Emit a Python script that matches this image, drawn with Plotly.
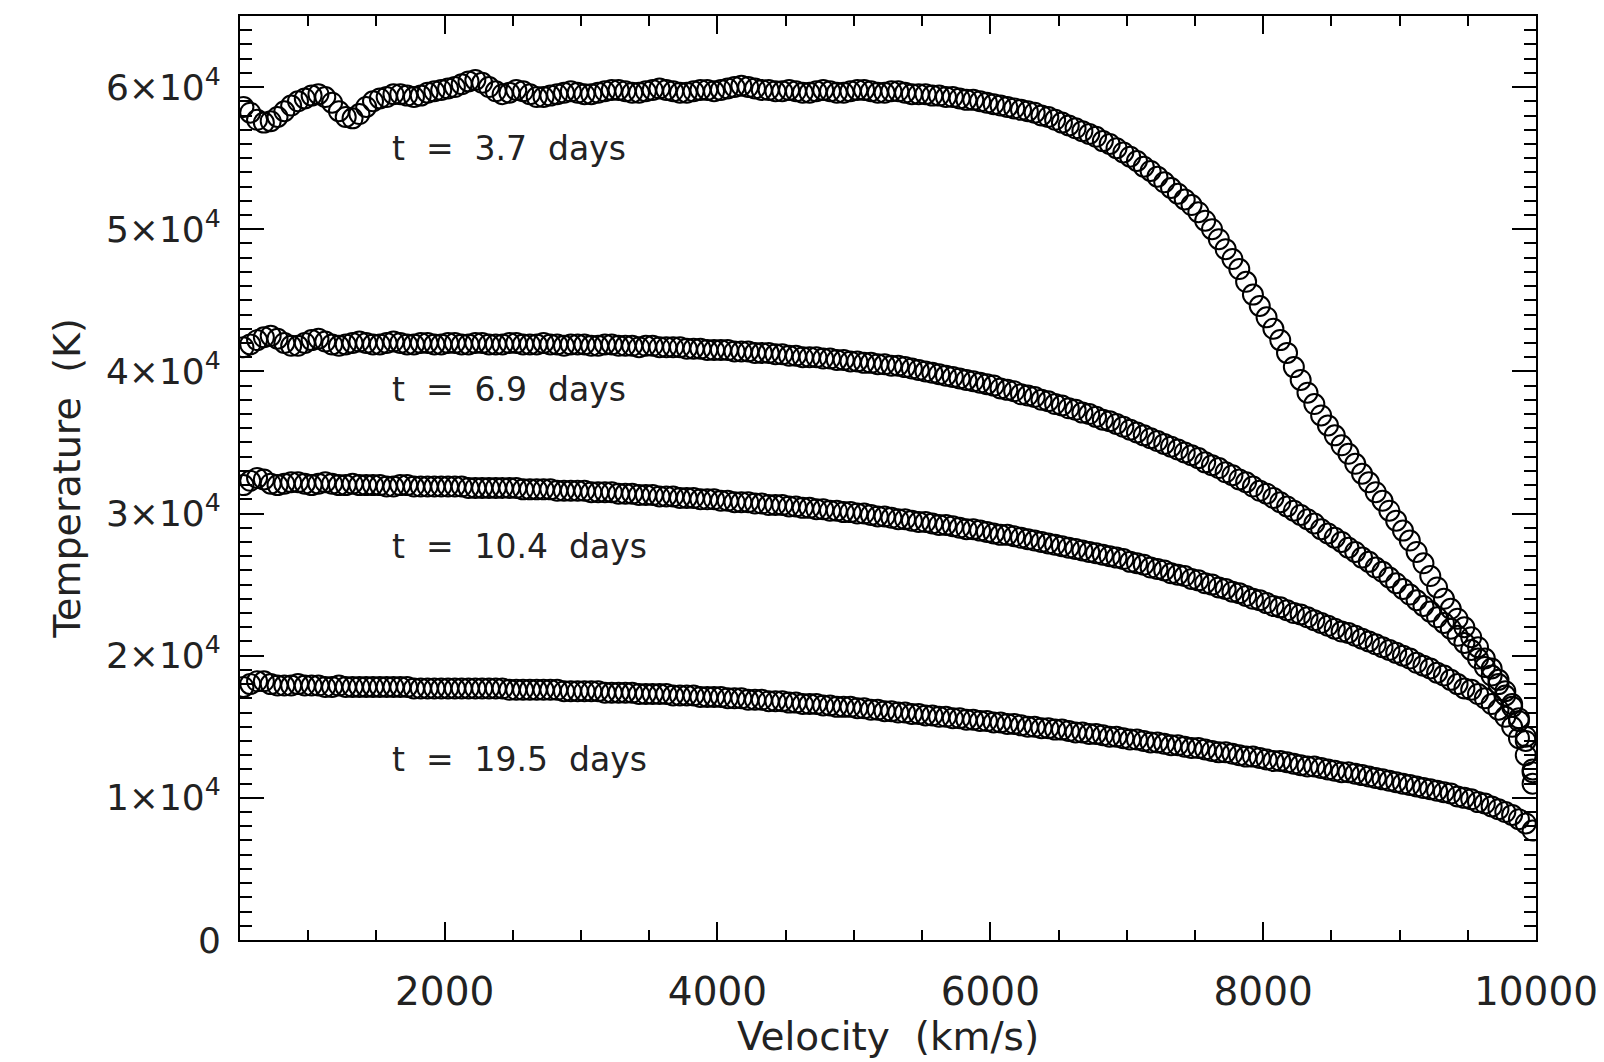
import plotly.graph_objects as go

# Velocity grid (km/s)
velocity = [
    525, 575, 625, 675, 725, 775, 825, 875, 925, 975,
    1025, 1075, 1125, 1175, 1225, 1275, 1325, 1375, 1425, 1475,
    1525, 1575, 1625, 1675, 1725, 1775, 1825, 1875, 1925, 1975,
    2025, 2075, 2125, 2175, 2225, 2275, 2325, 2375, 2425, 2475,
    2525, 2575, 2625, 2675, 2725, 2775, 2825, 2875, 2925, 2975,
    3025, 3075, 3125, 3175, 3225, 3275, 3325, 3375, 3425, 3475,
    3525, 3575, 3625, 3675, 3725, 3775, 3825, 3875, 3925, 3975,
    4025, 4075, 4125, 4175, 4225, 4275, 4325, 4375, 4425, 4475,
    4525, 4575, 4625, 4675, 4725, 4775, 4825, 4875, 4925, 4975,
    5025, 5075, 5125, 5175, 5225, 5275, 5325, 5375, 5425, 5475,
    5525, 5575, 5625, 5675, 5725, 5775, 5825, 5875, 5925, 5975,
    6025, 6075, 6125, 6175, 6225, 6275, 6325, 6375, 6425, 6475,
    6525, 6575, 6625, 6675, 6725, 6775, 6825, 6875, 6925, 6975,
    7025, 7075, 7125, 7175, 7225, 7275, 7325, 7375, 7425, 7475,
    7525, 7575, 7625, 7675, 7725, 7775, 7825, 7875, 7925, 7975,
    8025, 8075, 8125, 8175, 8225, 8275, 8325, 8375, 8425, 8475,
    8525, 8575, 8625, 8675, 8725, 8775, 8825, 8875, 8925, 8975,
    9025, 9075, 9125, 9175, 9225, 9275, 9325, 9375, 9425, 9475,
    9525, 9575, 9625, 9675, 9725, 9775, 9825, 9875, 9925, 9975,
]

# Temperatures in units of 1000 K
temp_3p7_kK = [
    58.6, 58.2, 57.7, 57.5, 57.6, 57.9, 58.3, 58.7, 59.0, 59.2,
    59.4, 59.5, 59.3, 58.9, 58.3, 57.9, 57.8, 58.1, 58.6, 59.0,
    59.2, 59.3, 59.5, 59.5, 59.4, 59.3, 59.4, 59.6, 59.7, 59.8,
    59.9, 60.0, 60.2, 60.4, 60.5, 60.3, 60.0, 59.7, 59.5, 59.6,
    59.8, 59.7, 59.5, 59.3, 59.3, 59.4, 59.5, 59.6, 59.7, 59.6,
    59.5, 59.5, 59.6, 59.7, 59.8, 59.8, 59.7, 59.6, 59.6, 59.7,
    59.8, 59.9, 59.8, 59.7, 59.6, 59.6, 59.7, 59.8, 59.8, 59.7,
    59.8, 59.9, 60.0, 60.1, 60.0, 59.9, 59.8, 59.8, 59.7, 59.7,
    59.8, 59.7, 59.6, 59.6, 59.7, 59.8, 59.7, 59.6, 59.6, 59.7,
    59.8, 59.8, 59.7, 59.6, 59.6, 59.7, 59.7, 59.6, 59.5, 59.5,
    59.5, 59.4, 59.4, 59.3, 59.3, 59.2, 59.1, 59.1, 59.0, 58.9,
    58.8, 58.7, 58.6, 58.5, 58.4, 58.3, 58.2, 58.0, 57.9, 57.7,
    57.5, 57.3, 57.1, 56.9, 56.7, 56.5, 56.2, 56.0, 55.7, 55.4,
    55.1, 54.8, 54.4, 54.1, 53.7, 53.3, 52.9, 52.5, 52.1, 51.7,
    51.2, 50.6, 50.0, 49.3, 48.6, 47.9, 47.2, 46.3, 45.4, 44.6,
    43.8, 43.0, 42.2, 41.3, 40.3, 39.4, 38.5, 37.7, 36.9, 36.2,
    35.5, 34.8, 34.2, 33.5, 32.8, 32.2, 31.5, 30.9, 30.2, 29.5,
    28.8, 28.1, 27.3, 26.5, 25.6, 24.8, 24.0, 23.3, 22.6, 22.0,
    21.3, 20.6, 19.8, 19.1, 18.3, 17.5, 16.6, 15.6, 14.3, 12.0,
]

temp_6p9_kK = [
    41.7, 41.9, 42.2, 42.4, 42.5, 42.3, 42.0, 41.8, 41.8, 42.0,
    42.2, 42.3, 42.1, 41.9, 41.8, 41.9, 42.0, 42.1, 42.0, 41.9,
    41.9, 42.0, 42.1, 42.0, 41.9, 41.9, 42.0, 42.0, 41.9, 41.9,
    42.0, 42.0, 41.9, 41.9, 42.0, 42.0, 41.9, 41.9, 41.9, 42.0,
    42.0, 41.9, 41.9, 41.9, 42.0, 41.9, 41.9, 41.8, 41.9, 41.9,
    41.9, 41.8, 41.8, 41.9, 41.9, 41.8, 41.8, 41.8, 41.7, 41.8,
    41.8, 41.7, 41.7, 41.7, 41.7, 41.6, 41.6, 41.6, 41.5, 41.5,
    41.5, 41.5, 41.4, 41.4, 41.4, 41.3, 41.3, 41.3, 41.2, 41.2,
    41.1, 41.1, 41.0, 41.0, 41.0, 40.9, 40.9, 40.8, 40.8, 40.7,
    40.7, 40.6, 40.6, 40.5, 40.5, 40.4, 40.4, 40.3, 40.2, 40.1,
    40.0, 39.9, 39.8, 39.7, 39.6, 39.5, 39.4, 39.3, 39.2, 39.1,
    39.0, 38.8, 38.7, 38.6, 38.4, 38.3, 38.2, 38.0, 37.9, 37.7,
    37.6, 37.4, 37.3, 37.1, 37.0, 36.8, 36.6, 36.5, 36.3, 36.1,
    35.9, 35.7, 35.5, 35.3, 35.1, 34.9, 34.7, 34.5, 34.3, 34.1,
    33.9, 33.6, 33.4, 33.2, 32.9, 32.7, 32.4, 32.2, 31.9, 31.6,
    31.4, 31.1, 30.8, 30.5, 30.2, 29.9, 29.6, 29.3, 28.9, 28.6,
    28.3, 28.0, 27.6, 27.3, 26.9, 26.6, 26.2, 25.9, 25.5, 25.1,
    24.7, 24.3, 23.9, 23.5, 23.1, 22.7, 22.3, 21.9, 21.4, 20.9,
    20.4, 19.8, 19.2, 18.6, 18.0, 17.2, 16.4, 15.4, 14.0, 11.8,
]

temp_10p4_kK = [
    32.0, 32.3, 32.5, 32.4, 32.1, 32.0, 32.1, 32.2, 32.2, 32.1,
    32.0, 32.1, 32.2, 32.1, 32.0, 32.0, 32.1, 32.0, 32.0, 32.0,
    32.0, 31.9, 31.9, 32.0, 32.0, 31.9, 31.9, 31.9, 31.9, 31.9,
    31.9, 31.9, 31.9, 31.8, 31.8, 31.8, 31.8, 31.8, 31.8, 31.8,
    31.8, 31.7, 31.7, 31.7, 31.7, 31.7, 31.6, 31.6, 31.6, 31.6,
    31.6, 31.5, 31.5, 31.5, 31.5, 31.4, 31.4, 31.4, 31.3, 31.3,
    31.3, 31.2, 31.2, 31.2, 31.1, 31.1, 31.1, 31.0, 31.0, 31.0,
    30.9, 30.9, 30.8, 30.8, 30.8, 30.7, 30.7, 30.6, 30.6, 30.6,
    30.5, 30.5, 30.4, 30.4, 30.3, 30.3, 30.2, 30.2, 30.1, 30.1,
    30.0, 30.0, 29.9, 29.8, 29.8, 29.7, 29.6, 29.6, 29.5, 29.4,
    29.4, 29.3, 29.2, 29.2, 29.1, 29.0, 28.9, 28.9, 28.8, 28.7,
    28.6, 28.5, 28.5, 28.4, 28.3, 28.2, 28.1, 28.0, 27.9, 27.8,
    27.7, 27.6, 27.5, 27.4, 27.3, 27.2, 27.1, 27.0, 26.9, 26.8,
    26.6, 26.5, 26.4, 26.2, 26.1, 26.0, 25.8, 25.7, 25.6, 25.4,
    25.3, 25.1, 25.0, 24.8, 24.7, 24.5, 24.4, 24.2, 24.0, 23.9,
    23.7, 23.5, 23.4, 23.2, 23.0, 22.9, 22.7, 22.5, 22.3, 22.1,
    21.9, 21.7, 21.6, 21.4, 21.2, 21.0, 20.8, 20.6, 20.4, 20.2,
    20.0, 19.8, 19.5, 19.3, 19.1, 18.8, 18.6, 18.3, 18.0, 17.7,
    17.6, 17.3, 17.0, 16.6, 16.2, 15.7, 15.0, 14.2, 13.0, 11.0,
]

temp_19p5_kK = [
    17.8, 18.0, 18.2, 18.2, 18.0, 17.9, 17.9, 17.9, 18.0, 17.9,
    17.9, 17.9, 17.8, 17.8, 17.9, 17.8, 17.8, 17.8, 17.8, 17.8,
    17.8, 17.8, 17.8, 17.8, 17.8, 17.7, 17.7, 17.7, 17.7, 17.7,
    17.7, 17.7, 17.7, 17.7, 17.7, 17.7, 17.7, 17.7, 17.7, 17.6,
    17.6, 17.6, 17.6, 17.6, 17.6, 17.6, 17.6, 17.5, 17.5, 17.5,
    17.5, 17.5, 17.5, 17.4, 17.4, 17.4, 17.4, 17.4, 17.3, 17.3,
    17.3, 17.3, 17.3, 17.2, 17.2, 17.2, 17.2, 17.1, 17.1, 17.1,
    17.1, 17.0, 17.0, 17.0, 16.9, 16.9, 16.9, 16.8, 16.8, 16.8,
    16.7, 16.7, 16.6, 16.6, 16.6, 16.5, 16.5, 16.4, 16.4, 16.4,
    16.3, 16.3, 16.2, 16.2, 16.1, 16.1, 16.0, 16.0, 15.9, 15.9,
    15.8, 15.8, 15.7, 15.7, 15.6, 15.6, 15.5, 15.5, 15.4, 15.4,
    15.3, 15.3, 15.2, 15.2, 15.1, 15.0, 15.0, 14.9, 14.9, 14.8,
    14.8, 14.7, 14.6, 14.6, 14.5, 14.5, 14.4, 14.3, 14.3, 14.2,
    14.1, 14.1, 14.0, 13.9, 13.9, 13.8, 13.7, 13.7, 13.6, 13.5,
    13.5, 13.4, 13.3, 13.2, 13.2, 13.1, 13.0, 12.9, 12.9, 12.8,
    12.7, 12.6, 12.6, 12.5, 12.4, 12.3, 12.2, 12.2, 12.1, 12.0,
    11.9, 11.8, 11.8, 11.7, 11.6, 11.5, 11.4, 11.3, 11.2, 11.1,
    11.0, 10.9, 10.8, 10.7, 10.6, 10.5, 10.4, 10.3, 10.1, 10.0,
    9.9, 9.7, 9.6, 9.4, 9.2, 9.0, 8.8, 8.5, 8.2, 7.7,
]

series_labels = ["t = 3.7 days", "t = 6.9 days", "t = 10.4 days", "t = 19.5 days"]
label_x = [1600, 1600, 1600, 1600]
label_y = [55650, 38700, 27650, 12700]

y_tickvals = [0, 10000, 20000, 30000, 40000, 50000, 60000]
y_ticktext = ["0", "1×10<sup>4</sup>", "2×10<sup>4</sup>", "3×10<sup>4</sup>",
              "4×10<sup>4</sup>", "5×10<sup>4</sup>", "6×10<sup>4</sup>"]
x_tickvals = [2000, 4000, 6000, 8000, 10000]
x_ticktext = ["2000", "4000", "6000", "8000", "10000"]

FONT = "DejaVu Sans"
fig = go.Figure()
for temps in [temp_3p7_kK, temp_6p9_kK, temp_10p4_kK, temp_19p5_kK]:
    fig.add_trace(go.Scatter(
        x=velocity, y=[t * 1000 for t in temps], mode="markers",
        marker=dict(symbol="circle-open", size=20, color="black",
                    line=dict(width=2, color="black")),
        showlegend=False, cliponaxis=True,
    ))

def spaced(s):
    return s.replace(" = ", "\u00a0\u00a0=\u00a0\u00a0").replace(" days", "\u00a0\u00a0days")

for lab, lx, ly in zip(series_labels, label_x, label_y):
    fig.add_annotation(x=lx, y=ly, text=spaced(lab), showarrow=False,
                       xanchor="left", yanchor="middle",
                       font=dict(family=FONT, size=33, color="#222"))

# page body has an 8px margin: size figure so plot area lands where the reference has it
fig.update_layout(
    width=1596, height=1054,
    margin=dict(l=232, r=63, t=6, b=122),
    paper_bgcolor="white", plot_bgcolor="white",
    font=dict(family=FONT, size=35, color="#222"),
)
fig.update_xaxes(
    range=[500, 10000], tickvals=x_tickvals, ticktext=x_ticktext,
    showgrid=False, zeroline=False,
    showline=True, linecolor="black", linewidth=2, mirror="ticks",
    ticks="inside", ticklen=18, tickwidth=2, tickcolor="black",
    minor=dict(dtick=500, tick0=0, ticks="inside", ticklen=10, tickwidth=2, tickcolor="black"),
    ticklabelstandoff=16, tickfont=dict(size=39), ticklabeloverflow="allow",
    title=dict(text="Velocity\u00a0\u00a0(km/s)", font=dict(size=39), standoff=6),
)
fig.update_yaxes(
    range=[0, 65000], tickvals=y_tickvals, ticktext=y_ticktext, showgrid=False, zeroline=False,
    showline=True, linecolor="black", linewidth=2, mirror="ticks",
    ticks="inside", ticklen=24, tickwidth=2, tickcolor="black",
    minor=dict(dtick=1000, tick0=0, ticks="inside", ticklen=12, tickwidth=2, tickcolor="black"),
    ticklabelstandoff=10, tickfont=dict(size=36),
    title=dict(text="Temperature\u00a0\u00a0(K)", font=dict(size=38), standoff=14),
)
fig.write_html("out.html")
